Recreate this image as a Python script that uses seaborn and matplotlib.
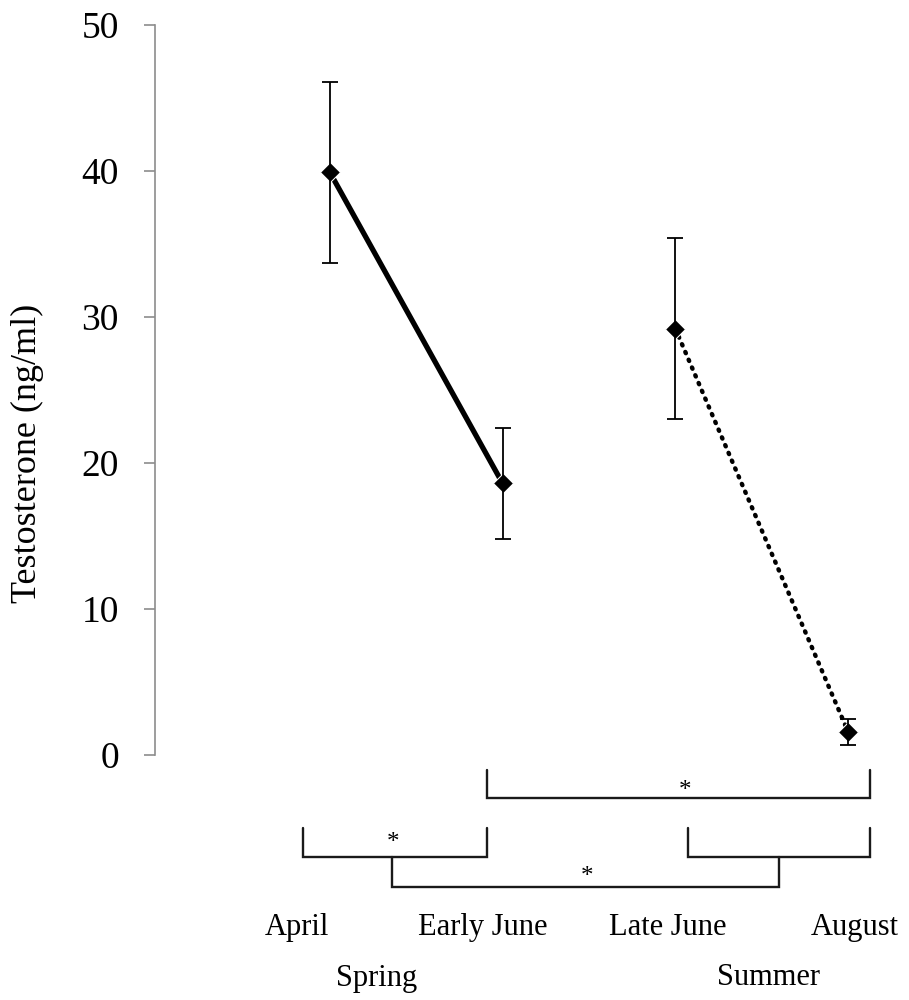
import numpy as np
import pandas as pd
import matplotlib
matplotlib.use("Agg")
import matplotlib.pyplot as plt
import seaborn as sns

# values (mean +/- error bar)
months = ["April", "Early June", "Late June", "August"]
seasons = ["Spring", "Spring", "Summer", "Summer"]
testosterone = [39.9, 18.6, 29.2, 1.6]
err = [6.2, 3.8, 6.2, 0.9]
yticks = [0, 10, 20, 30, 40, 50]

df = pd.DataFrame({"month": months, "season": seasons,
                   "T": testosterone, "err": err})
df["pos"] = np.arange(len(df))

sns.set_style("white")
plt.rcParams["font.family"] = ["Liberation Serif", "DejaVu Serif"]
plt.rcParams["text.color"] = "black"
plt.rcParams["axes.labelcolor"] = "black"

fig = plt.figure(figsize=(9.09, 10), dpi=100)
ax = fig.add_axes([0.1705, 0.245, 0.8295, 0.73])

spring = df[df.season == "Spring"]
summer = df[df.season == "Summer"]
sns.lineplot(data=spring, x="pos", y="T", color="black", lw=3.8,
             marker="D", markersize=10, ax=ax, clip_on=False)
sns.lineplot(data=summer, x="pos", y="T", color="black", lw=3.2,
             linestyle=(0, (0.3, 1.6)), dash_capstyle="round",
             marker="D", markersize=10, ax=ax, clip_on=False)
ax.errorbar(df.pos, df["T"], yerr=df.err, fmt="none", ecolor="black",
            elinewidth=1.3, capsize=6, capthick=1.3, clip_on=False)

ax.set_xlim(-1.013, 3.353)
ax.set_ylim(0, 50)
ax.set_yticks(yticks)
ax.set_xticks([])
ax.tick_params(axis="y", labelsize=27, length=8, width=1.2, color="#8c8c8c",
               labelcolor="black", pad=18, left=True)
for s in ["top", "right", "bottom"]:
    ax.spines[s].set_visible(False)
ax.spines["left"].set_color("#8c8c8c")
ax.spines["left"].set_linewidth(1.2)
ax.set_xlabel("")
ax.set_ylabel("Testosterone (ng/ml)", fontsize=26)
ax.yaxis.set_label_coords(-0.147, 0.413)


def bracket(x0, x1, ytop, ybot):
    ax.plot([x0, x0, x1, x1], [ytop, ybot, ybot, ytop], color="#1a1a1a",
            lw=1.7, clip_on=False, solid_joinstyle="miter")


# significance brackets below the axis
bracket(0.909, 3.127, -1.03, -2.95)
bracket(-0.156, 0.909, -5.0, -7.0)
bracket(2.073, 3.127, -5.0, -7.0)
bracket(0.359, 2.6, -7.0, -9.05)
for sx, sy in [(2.056, -2.45), (0.365, -6.0), (1.488, -8.35)]:
    ax.text(sx, sy, "*", fontsize=18, ha="center", va="center", clip_on=False)

# month and season labels
label_x = [-0.19, 0.886, 1.957, 3.04]
for lx, m in zip(label_x, months):
    ax.text(lx, -11.8, m, fontsize=22, ha="center", va="center")
ax.text(0.272, -15.3, "Spring", fontsize=22, ha="center", va="center")
ax.text(2.54, -15.25, "Summer", fontsize=22, ha="center", va="center")

fig.savefig("out.png", dpi=100)
